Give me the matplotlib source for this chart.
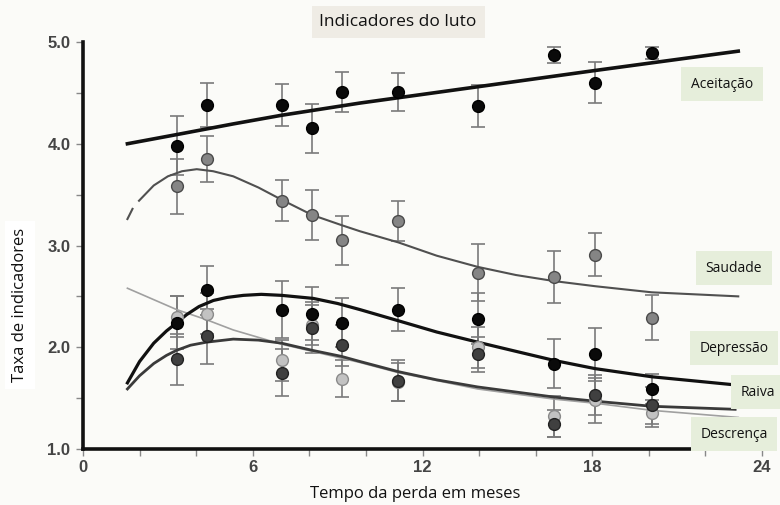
import matplotlib
matplotlib.use("Agg")
import matplotlib.pyplot as plt
from matplotlib.ticker import MultipleLocator

# time points (months)
months = [3.31, 4.37, 7.02, 8.1, 9.14, 11.15, 13.95, 16.66, 18.1, 20.1]

aceitacao = [3.98, 4.38, 4.38, 4.15, 4.51, 4.51, 4.37, 4.87, 4.6, 4.89]
aceitacao_err = [0.29, 0.22, 0.21, 0.24, 0.2, 0.19, 0.21, 0.08, 0.2, 0.06]
saudade = [3.58, 3.85, 3.44, 3.30, 3.05, 3.24, 2.73, 2.69, 2.91, 2.29]
saudade_err = [0.27, 0.23, 0.2, 0.25, 0.24, 0.2, 0.28, 0.26, 0.21, 0.22]
depressao = [2.24, 2.56, 2.37, 2.33, 2.24, 2.37, 2.28, 1.84, 1.93, 1.59]
depressao_err = [0.26, 0.24, 0.28, 0.26, 0.24, 0.21, 0.25, 0.24, 0.26, 0.15]
raiva = [1.88, 2.11, 1.75, 2.19, 2.02, 1.67, 1.93, 1.25, 1.53, 1.43]
raiva_err = [0.25, 0.27, 0.23, 0.25, 0.2, 0.2, 0.17, 0.13, 0.2, 0.18]
descrenca = [2.30, 2.33, 1.87, 2.22, 1.69, 1.66, 2.0, 1.32, 1.48, 1.35]
descrenca_err = [0.2, 0.2, 0.2, 0.2, 0.18, 0.19, 0.2, 0.2, 0.22, 0.13]

# fitted curves
acc_cx = [1.57, 3.31, 5.31, 7.02, 9.79, 13.95, 18.1, 23.16]
acc_cy = [4.00, 4.09, 4.195, 4.28, 4.40, 4.56, 4.72, 4.91]
sau_cx = [1.57, 1.75]
sau_cy = [3.26, 3.36]
sau2_cx = [1.98, 2.5, 3.0, 3.5, 4.02, 4.6, 5.31, 6.2, 7.02, 8.1, 9.14, 9.79,
           11.15, 12.5, 13.95, 15.3, 16.66, 18.1, 20.1, 23.16]
sau2_cy = [3.44, 3.59, 3.68, 3.73, 3.75, 3.73, 3.68, 3.57, 3.45, 3.30, 3.20, 3.14,
           3.03, 2.90, 2.79, 2.71, 2.65, 2.60, 2.54, 2.50]
dep_cx = [1.57, 2.0, 2.5, 2.95, 3.31, 3.66, 4.1, 4.61, 5.1, 5.67, 6.3, 7.02, 8.14,
          9.0, 9.79, 11.15, 12.5, 13.95, 15.3, 16.66, 18.1, 20.1, 23.05]
dep_cy = [1.65, 1.86, 2.04, 2.16, 2.24, 2.32, 2.40, 2.46, 2.49, 2.51, 2.52, 2.51, 2.48,
          2.43, 2.37, 2.26, 2.15, 2.05, 1.96, 1.87, 1.79, 1.71, 1.63]
rai_cx = [1.57, 2.0, 2.5, 2.95, 3.31, 3.8, 4.37, 5.31, 6.2, 7.02, 8.1, 9.14, 9.79,
          11.15, 12.5, 13.95, 15.3, 16.66, 18.1, 20.1, 23.05]
rai_cy = [1.59, 1.72, 1.84, 1.92, 1.97, 2.02, 2.05, 2.08, 2.07, 2.04, 1.97, 1.91, 1.86,
          1.76, 1.68, 1.61, 1.56, 1.51, 1.47, 1.42, 1.39]
des_cx = [1.57, 3.31, 4.37, 5.31, 7.02, 8.1, 9.79, 11.15, 13.95, 16.66, 18.1, 20.1, 23.16]
des_cy = [2.58, 2.37, 2.27, 2.17, 2.03, 1.96, 1.85, 1.75, 1.59, 1.49, 1.45, 1.38, 1.31]

fig = plt.figure(figsize=(7.8, 5.05), dpi=100, facecolor='#fbfbf8')
ax = fig.add_axes([83/780, 1-449/505, (770.5-83)/780, (449-42)/505])
ax.set_facecolor('#fbfbf8')

# curves
ax.plot(des_cx, des_cy, color='#a0a0a0', lw=1.2, zorder=2)
ax.plot(sau_cx, sau_cy, color='#505050', lw=1.5, zorder=2)
ax.plot(sau2_cx, sau2_cy, color='#505050', lw=1.5, zorder=2)
ax.plot(rai_cx, rai_cy, color='#3a3a3a', lw=2.0, zorder=2)
ax.plot(dep_cx, dep_cy, color='#111111', lw=2.3, zorder=2)
ax.plot(acc_cx, acc_cy, color='#111111', lw=2.6, zorder=2)

series = [
    (descrenca, descrenca_err, '#c2c2c2', '#8a8a8a'),
    (raiva, raiva_err, '#404040', '#222222'),
    (saudade, saudade_err, '#858585', '#4a4a4a'),
    (depressao, depressao_err, '#0a0a0a', '#000000'),
    (aceitacao, aceitacao_err, '#0a0a0a', '#000000'),
]
for vals, err, fc, ec in series:
    ax.errorbar(months, vals, yerr=err, fmt='none', ecolor='#7a7a7a',
                elinewidth=1.2, capsize=5, capthick=1.2, zorder=1)
    ax.plot(months, vals, 'o', ms=8.5, mfc=fc, mec=ec, mew=1.0, zorder=3)

ax.set_xlim(0, 24.3)
ax.set_ylim(1.0, 5.0)
ax.set_xticks([0, 2, 4, 6, 8, 10, 12, 14, 16, 18, 20, 22, 24])
ax.set_xticklabels(['0', '', '', '6', '', '', '12', '', '', '18', '', '', '24'])
ax.yaxis.set_major_locator(MultipleLocator(1.0))
ax.yaxis.set_minor_locator(MultipleLocator(0.5))
ax.yaxis.set_major_formatter(matplotlib.ticker.FormatStrFormatter('%.1f'))
for s in ['top', 'right']:
    ax.spines[s].set_visible(False)
for s in ['left', 'bottom']:
    ax.spines[s].set_linewidth(2.6)
    ax.spines[s].set_color('#111111')
ax.tick_params(axis='both', which='both', direction='out', length=5, width=1,
               color='#888888', labelcolor='#444444')
ax.tick_params(axis='y', pad=4)
ax.tick_params(axis='x', pad=3)
for lab in ax.get_xticklabels() + ax.get_yticklabels():
    lab.set_fontfamily('Liberation Sans')
    lab.set_fontweight('bold')
    lab.set_fontsize(12)

font = 'Open Sans'
fig.text(398/780, 1-22/505, 'Indicadores do luto', ha='center', va='center',
         fontsize=12.5, family=font, color='#111111',
         bbox=dict(boxstyle='square,pad=0.45', fc='#efece5', ec='none'))
fig.text(415/780, 1-494/505, 'Tempo da perda em meses', ha='center', va='center',
         fontsize=12, family=font, color='#111111')
fig.text(20/780, 1-305/505, 'Taxa de indicadores', ha='center', va='center',
         rotation=90, fontsize=12, family=font, color='#111111',
         bbox=dict(boxstyle='square,pad=0.4', fc='white', ec='none'))

box = dict(boxstyle='square,pad=0.7', fc='#e6eedb', ec='none')
fig.text(722/780, 1-84/505, 'Aceitação', ha='center', va='center',
         fontsize=10, family=font, color='#111111', bbox=box)
fig.text(734/780, 1-268/505, 'Saudade', ha='center', va='center',
         fontsize=10, family=font, color='#111111', bbox=box)
fig.text(734/780, 1-348/505, 'Depressão', ha='center', va='center',
         fontsize=10, family=font, color='#111111', bbox=box)
fig.text(758/780, 1-392/505, 'Raiva', ha='center', va='center',
         fontsize=10, family=font, color='#111111', bbox=box)
fig.text(734/780, 1-434/505, 'Descrença', ha='center', va='center',
         fontsize=10, family=font, color='#111111', bbox=box)

fig.savefig('out.png', dpi=100, facecolor=fig.get_facecolor())
